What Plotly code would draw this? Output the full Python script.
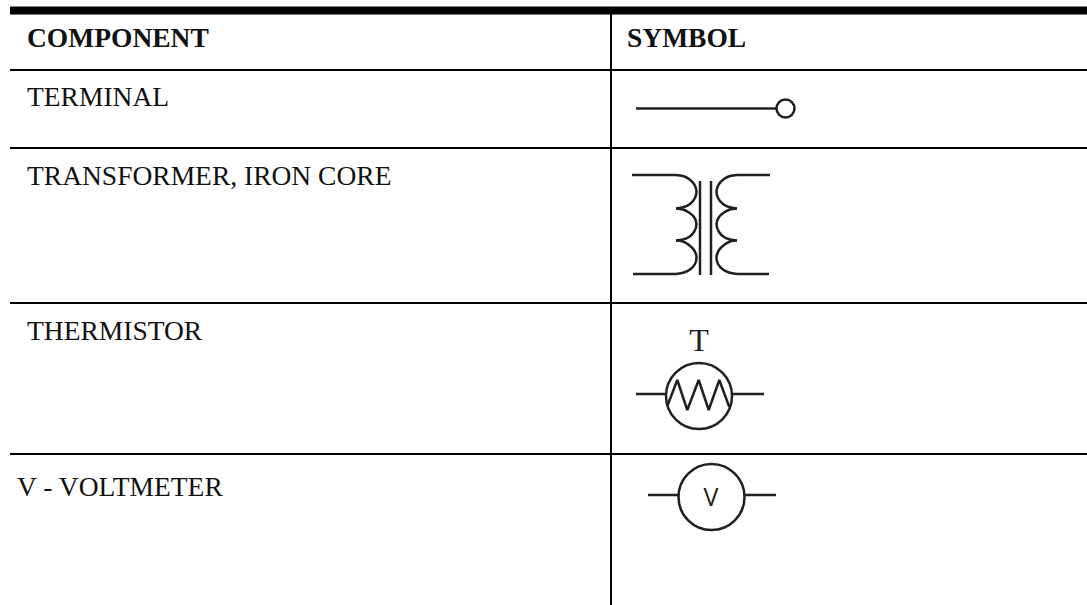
import plotly.graph_objects as go

INK = "#231f20"
SERIF = "Liberation Serif"

# table text
header_labels = ["COMPONENT", "SYMBOL"]
header_x = [27, 627]
header_y = [40, 40]
row_labels = ["TERMINAL", "TRANSFORMER, IRON CORE", "THERMISTOR", "V - VOLTMETER"]
row_x = [27, 27, 27, 17]
row_y = [99, 178, 333, 489]

# table rules: (x0, x1, y0, y1, width)
rule_top = [10, 1087, 10.5, 10.5, 8]
rule_rows_y = [70, 148, 303, 454]
rule_x_span = [10, 1087]
rule_col_x = [611, 611]
rule_col_y = [14, 605]

# terminal
terminal_x = [636, 776]
terminal_y = [108.5, 108.5]
terminal_ring = [785.5, 108.5, 18]

# transformer
left_coil = [
    [[676, 175], [683, 176], [689, 179], [694, 184], [696.5, 191], [695, 198], [690, 204], [684, 207], [676, 208.5]],
    [[676, 208.5], [683, 209.5], [689, 212.5], [694, 217], [696.5, 224], [694, 232], [689, 237], [683, 239.5], [676, 240.5]],
    [[676, 240.5], [683, 241.5], [689, 245], [694, 250], [696.5, 257], [695, 264], [690, 269.5], [684, 272.5], [676, 274]],
]
right_coil = [
    [[737, 175], [730, 176], [724, 179], [719, 184], [716.5, 191], [718, 198], [723, 204], [729, 207], [737, 208.5]],
    [[737, 208.5], [730, 209.5], [724, 212.5], [719, 217], [716.5, 224], [719, 232], [724, 237], [730, 239.5], [737, 240.5]],
    [[737, 240.5], [730, 241.5], [724, 245], [719, 250], [716.5, 257], [718, 264], [723, 269.5], [729, 272.5], [737, 274]],
]
transformer_leads = [
    [[632, 676], [175, 175]],
    [[633, 676], [274, 274]],
    [[737, 770], [175, 175]],
    [[737, 769], [274, 274]],
    [[700, 700], [181, 275]],
    [[711, 711], [181, 275]],
]

# thermistor
thermistor_letter = ["T", 699, 343]
thermistor_ring = [699, 396, 66]
thermistor_leads = [[[636, 665], [394, 394]], [[733, 764], [394, 394]]]
zigzag_x = [667.7, 677.3, 687.3, 698.7, 708.7, 719.3, 729.3]
zigzag_y = [405, 380, 410, 380, 410, 380, 407]

# voltmeter
volt_letter = ["V", 711, 500]
volt_ring = [711.5, 497, 66]
volt_leads = [[[648, 678], [495, 495]], [[745, 776], [495, 495]]]

fig = go.Figure()


def line(xs, ys, width=2.5, color=INK, shape="linear"):
    fig.add_trace(go.Scatter(x=xs, y=ys, mode="lines", hoverinfo="skip",
                             line=dict(color=color, width=width, shape=shape, smoothing=1.0)))


def ring(spec):
    fig.add_trace(go.Scatter(x=[spec[0]], y=[spec[1]], mode="markers", hoverinfo="skip",
                             marker=dict(symbol="circle-open", size=spec[2], color=INK,
                                         line=dict(color=INK, width=2.5))))


# rules
line(rule_top[:2], rule_top[2:4], rule_top[4], "#000000")
for y in rule_rows_y:
    line(rule_x_span, [y, y], 2, "#000000")
line(rule_col_x, rule_col_y, 2, "#000000")

# terminal
line(terminal_x, terminal_y)
ring(terminal_ring)

# transformer
for arc in left_coil + right_coil:
    line([p[0] for p in arc], [p[1] for p in arc], shape="spline")
for xs, ys in transformer_leads:
    line(xs, ys)

# thermistor
for xs, ys in thermistor_leads:
    line(xs, ys)
ring(thermistor_ring)
line(zigzag_x, zigzag_y)

# voltmeter
for xs, ys in volt_leads:
    line(xs, ys)
ring(volt_ring)

# text
fig.add_trace(go.Scatter(x=header_x, y=header_y, text=header_labels, mode="text",
                         textposition="middle right", hoverinfo="skip",
                         textfont=dict(family=SERIF, size=27.5, color="#111111", weight="bold")))
fig.add_trace(go.Scatter(x=row_x, y=row_y, text=row_labels, mode="text",
                         textposition="middle right", hoverinfo="skip",
                         textfont=dict(family=SERIF, size=27.5, color="#111111")))
fig.add_trace(go.Scatter(x=[thermistor_letter[1]], y=[thermistor_letter[2]], text=[thermistor_letter[0]],
                         mode="text", textposition="middle center", hoverinfo="skip",
                         textfont=dict(family=SERIF, size=32, color=INK)))
fig.add_trace(go.Scatter(x=[volt_letter[1]], y=[volt_letter[2]], text=[volt_letter[0]],
                         mode="text", textposition="middle center", hoverinfo="skip",
                         textfont=dict(family="Open Sans", size=25, color=INK)))

fig.update_layout(
    width=1087, height=605, showlegend=False,
    margin=dict(l=0, r=0, t=0, b=0),
    paper_bgcolor="white", plot_bgcolor="white",
    xaxis=dict(range=[0, 1087], visible=False, fixedrange=True),
    yaxis=dict(range=[605, 0], visible=False, fixedrange=True),
)
fig.write_html("out.html", config={"displayModeBar": False},
               post_script="document.body.style.margin='0';document.body.style.overflow='hidden';")
